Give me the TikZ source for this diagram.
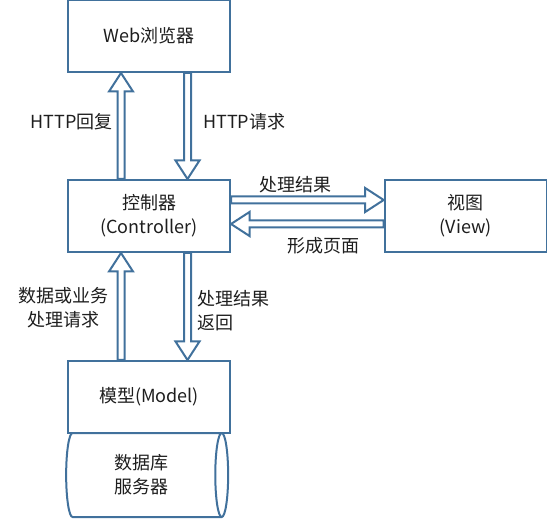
\documentclass[tikz,border=0pt]{standalone}
\usepackage{fontspec}
\setmainfont{Noto Sans CJK SC}
\usetikzlibrary{positioning,calc,shapes.geometric,backgrounds}

\definecolor{boxBlue}{RGB}{65,113,156}
\definecolor{textGray}{RGB}{30,30,30}

%% Hollow block arrows: start, tip, sign of the head offset.
\newcommand{\vArrow}[3]{%
  \draw[arrowStyle] ($(#1)+(-\sw,0)$) -- ($(#2)+(-\sw,{#3*\hl})$)
    -- ($(#2)+(-\hw,{#3*\hl})$) -- (#2) -- ($(#2)+(\hw,{#3*\hl})$)
    -- ($(#2)+(\sw,{#3*\hl})$) -- ($(#1)+(\sw,0)$) -- cycle;}
\newcommand{\hArrow}[3]{%
  \draw[arrowStyle] ($(#1)+(0,-\sw)$) -- ($(#2)+({#3*\hl},-\sw)$)
    -- ($(#2)+({#3*\hl},-\hw)$) -- (#2) -- ($(#2)+({#3*\hl},\hw)$)
    -- ($(#2)+({#3*\hl},\sw)$) -- ($(#1)+(0,\sw)$) -- cycle;}

\begin{document}
\begin{tikzpicture}[x=0.75pt,y=-0.75pt,%%
  boxStyle/.style={draw=boxBlue,line width=1.5pt,fill=white,
    minimum width=121.5pt,minimum height=54pt,align=center,
    text=textGray,font=\fontsize{13.5}{18}\selectfont},%%
  dbStyle/.style={cylinder,draw=boxBlue,line width=1.5pt,fill=white,
    minimum width=63pt,minimum height=121.5pt,shape aspect=0.26,
    align=center,text=textGray,font=\fontsize{13.5}{18}\selectfont},%%
  arrowStyle/.style={draw=boxBlue,line width=1.5pt,fill=white,line join=miter},%%
  labelStyle/.style={inner sep=0pt,text=textGray,
    font=\fontsize{13.5}{18}\selectfont}%%
]
%%
\useasboundingbox (0,0) rectangle (547,520);
%%
\pgfmathsetmacro{\sw}{3.5}
\pgfmathsetmacro{\hw}{12}
\pgfmathsetmacro{\hl}{18.5}
%%
%% The boxes.
\node[boxStyle] (web) at (149,36) {Web浏览器};
\node[boxStyle,below=79.5pt of web] (ctrl) {控制器\\(Controller)};
\node[boxStyle,right=114.5pt of ctrl] (view) {视图\\(View)};
\node[boxStyle,below=80.25pt of ctrl] (model) {模型(Model)};
%%
%% The database behind the model.
\begin{scope}[on background layer]
\node[dbStyle,anchor=north,xshift=-5.25pt,yshift=1.5pt] (db) at (model.south) {数据库\\服务器};
\end{scope}
%%
%% Ends of the arrows.
\coordinate (replyBot) at ($(ctrl.north west)+(54,0)$);
\coordinate (replyTop) at (replyBot |- web.south);
\coordinate (requestTop) at ($(web.south west)+(120.5,0)$);
\coordinate (requestBot) at (requestTop |- ctrl.north);
\coordinate (resultL) at ($(ctrl.north east)+(0,21)$);
\coordinate (resultR) at (resultL -| view.west);
\coordinate (pageR) at ($(view.north west)+(0,45)$);
\coordinate (pageL) at (pageR -| ctrl.east);
\coordinate (queryBot) at (replyBot |- model.north);
\coordinate (queryTop) at (replyBot |- ctrl.south);
\coordinate (returnTop) at (requestTop |- ctrl.south);
\coordinate (returnBot) at (requestTop |- model.north);
%%
%% Browser and controller.
\vArrow{replyBot}{replyTop}{1}
\vArrow{requestTop}{requestBot}{-1}
\node[labelStyle,anchor=east] (replyLabel) at (113,122) {HTTP回复};
\node[labelStyle,anchor=west] (requestLabel) at (203,122) {HTTP请求};
%%
%% Controller and view.
\hArrow{resultL}{resultR}{-1}
\hArrow{pageR}{pageL}{1}
\node[labelStyle] (resultLabel) at (295.5,185) {处理结果};
\node[labelStyle] (pageLabel) at (323.5,246) {形成页面};
%%
%% Controller and model.
\vArrow{queryBot}{queryTop}{1}
\vArrow{returnTop}{returnBot}{-1}
\node[labelStyle,align=center] (queryLabel) at (63.5,308) {数据或业务\\处理请求};
\node[labelStyle,align=left,anchor=west] (returnLabel) at (197,311) {处理结果\\返回};
\end{tikzpicture}
\end{document}
